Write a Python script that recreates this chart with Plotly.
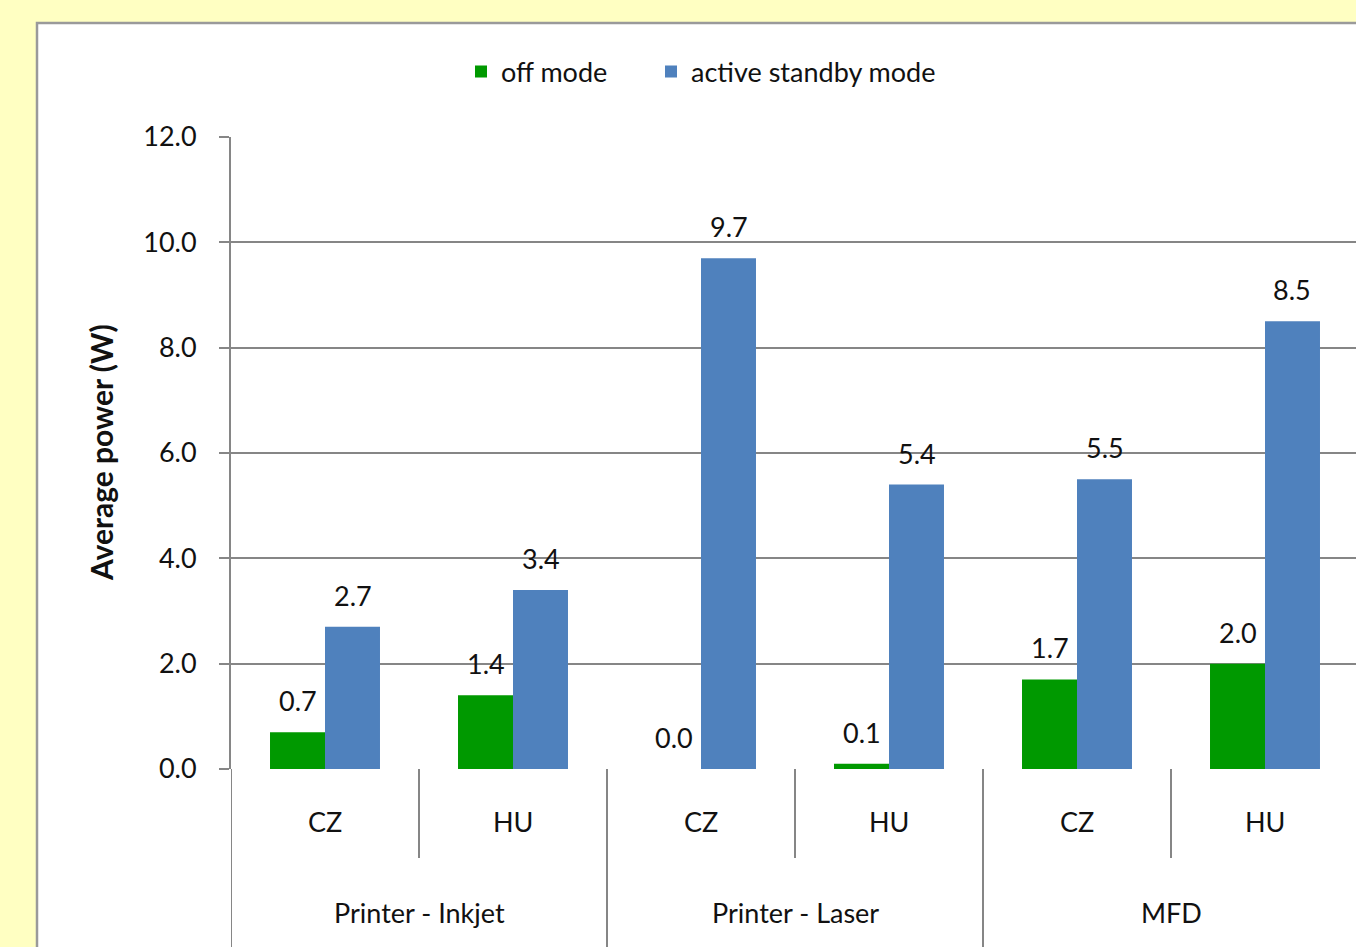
import plotly.graph_objects as go

# ---- data ----
groups = ["Printer - Inkjet", "Printer - Laser", "MFD"]
countries = ["CZ", "HU", "CZ", "HU", "CZ", "HU"]
off_mode = [0.7, 1.4, 0.0, 0.1, 1.7, 2.0]
active_standby = [2.7, 3.4, 9.7, 5.4, 5.5, 8.5]
y_ticks = [0, 2, 4, 6, 8, 10, 12]

# ---- page geometry (pixels) ----
W, H = 1356, 947
PL, PT, PB = 231, 137, 769          # plot area left / top / bottom
PW, PH = W - PL, PB - PT
CAT_PX = 188                         # width of one country slot


def px_x(x):
    return (x - PL) / PW


def px_y(y):
    return (PB - y) / PH


FONT = "Lato"
FS = 27
GREEN = "#009900"
BLUE = "#4F81BD"
GRID = "#868686"
TXT = "#111111"

xs = list(range(len(countries)))
n_groups = len(groups)
per_group = len(countries) // n_groups

fig = go.Figure()
fig.add_trace(go.Bar(x=xs, y=off_mode, name="off mode", marker_color=GREEN,
                     marker_line_width=0, legend="legend"))
fig.add_trace(go.Bar(x=xs, y=active_standby, name="active standby mode",
                     marker_color=BLUE, marker_line_width=0, legend="legend2"))

bargap = 0.415
half_bar = (1 - bargap) / 4          # centre offset of each bar in category units

annotations = []
# value labels above bars
for i, v in enumerate(off_mode):
    annotations.append(dict(x=i - half_bar, y=v, xref="x", yref="y", text=f"{v:.1f}",
                            showarrow=False, yanchor="bottom", yshift=13,
                            font=dict(family=FONT, size=FS, color=TXT)))
for i, v in enumerate(active_standby):
    annotations.append(dict(x=i + half_bar, y=v, xref="x", yref="y", text=f"{v:.1f}",
                            showarrow=False, yanchor="bottom", yshift=13,
                            font=dict(family=FONT, size=FS, color=TXT)))
# inner category labels
for i, c in enumerate(countries):
    annotations.append(dict(x=i, y=px_y(821), xref="x", yref="paper", text=c,
                            showarrow=False, yanchor="middle",
                            font=dict(family=FONT, size=FS, color=TXT)))
# outer group labels
for g, name in enumerate(groups):
    annotations.append(dict(x=g * per_group + (per_group - 1) / 2, y=px_y(912),
                            xref="x", yref="paper", text=name, showarrow=False,
                            yanchor="middle",
                            font=dict(family=FONT, size=FS, color=TXT)))
# y axis title
annotations.append(dict(x=px_x(101), y=px_y(453), xref="paper", yref="paper",
                        text="<b>Average power (W)</b>", textangle=-90,
                        showarrow=False, xanchor="center", yanchor="middle",
                        font=dict(family=FONT, size=30, color=TXT)))

shapes = [
    # white chart area with grey frame
    dict(type="rect", xref="paper", yref="paper", x0=px_x(37), y0=px_y(H + 20),
         x1=px_x(W + 20), y1=px_y(23), fillcolor="white",
         line=dict(color="#9A9A9A", width=2.5), layer="below"),
]
# separators between countries (short) and between groups (full height)
for k in range(len(countries) + 1):
    xb = k - 0.5
    if k % per_group == 0:
        y0 = px_y(H + 20)
    else:
        y0 = px_y(858)
    shapes.append(dict(type="line", xref="x", yref="paper", x0=xb, x1=xb,
                       y0=y0, y1=0, line=dict(color=GRID, width=2), layer="above"))

legend_style = dict(orientation="h", y=px_y(72), xanchor="left", yanchor="middle",
                    bgcolor="rgba(0,0,0,0)",
                    font=dict(family=FONT, size=FS, color=TXT))

fig.update_layout(
    width=W, height=H,
    margin=dict(l=PL, r=0, t=PT, b=H - PB, pad=0),
    paper_bgcolor="#FFFFC2",
    plot_bgcolor="rgba(0,0,0,0)",
    barmode="group", bargap=bargap, bargroupgap=0,
    font=dict(family=FONT, size=FS, color=TXT),
    showlegend=True,
    legend=dict(x=px_x(461), **legend_style),
    legend2=dict(x=px_x(651), **legend_style),
    annotations=annotations,
    shapes=shapes,
)
fig.update_xaxes(range=[-0.5, -0.5 + PW / CAT_PX], showticklabels=False,
                 showgrid=False, zeroline=False, showline=False, ticks="",
                 fixedrange=True)
fig.update_yaxes(range=[0, 12], tickvals=y_ticks, tickformat=".1f",
                 showgrid=True, gridcolor=GRID, gridwidth=2,
                 zeroline=False, showline=True, linecolor=GRID, linewidth=2,
                 ticks="outside", ticklen=10, tickcolor=GRID, tickwidth=2,
                 ticklabelstandoff=17,
                 tickfont=dict(family=FONT, size=FS, color=TXT),
                 fixedrange=True)

fig.write_html("out.html")
